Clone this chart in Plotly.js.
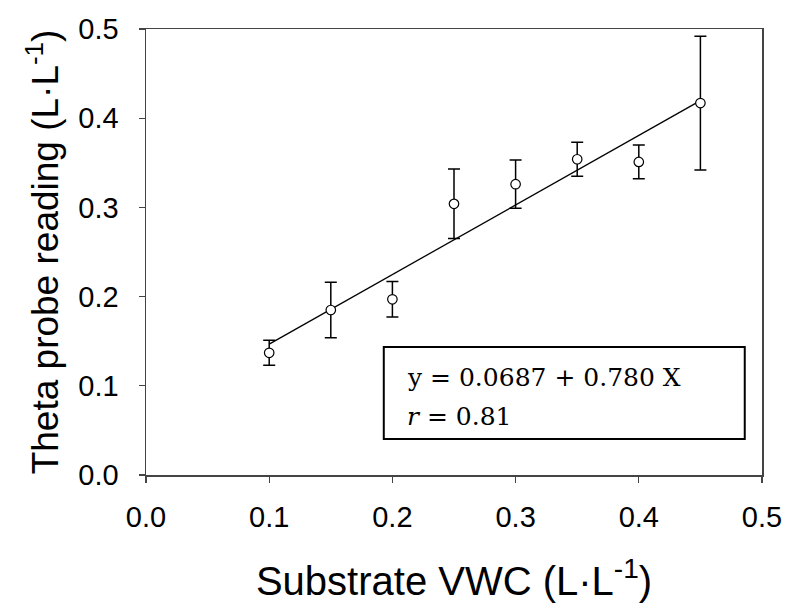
<!DOCTYPE html>
<html>
<head>
<meta charset="utf-8">
<script src="https://cdn.plot.ly/plotly-3.0.1.min.js"></script>
<style>html,body{margin:0;padding:0;background:#fff;}#chart{width:790px;height:609px;}</style>
</head>
<body>
<div id="chart"></div>
<script>
// Data
const vwc = [0.10, 0.15, 0.20, 0.25, 0.30, 0.35, 0.40, 0.45];
const theta = [0.137, 0.185, 0.197, 0.304, 0.326, 0.354, 0.351, 0.417];
const thetaErr = [0.014, 0.031, 0.020, 0.039, 0.027, 0.019, 0.019, 0.075];
const fitIntercept = 0.0687;
const fitSlope = 0.780;
const fitRange = [0.10, 0.45];
const xTicks = [0.0, 0.1, 0.2, 0.3, 0.4, 0.5];
const yTicks = [0.0, 0.1, 0.2, 0.3, 0.4, 0.5];
const eqText = "y = 0.0687 + 0.780 X";
const rText = "<i>r</i> = 0.81";

const fitY = fitRange.map(x => fitIntercept + fitSlope * x);

const SANS = "'Liberation Sans', Arial, sans-serif";

const traces = [
  {
    x: fitRange, y: fitY, type: 'scatter', mode: 'lines',
    line: {color: '#000', width: 1.3}, hoverinfo: 'skip', showlegend: false
  },
  {
    x: vwc, y: theta, type: 'scatter', mode: 'markers',
    marker: {symbol: 'circle', size: 9.5, color: '#fff', line: {color: '#000', width: 1.2}},
    error_y: {type: 'data', array: thetaErr, visible: true, color: '#000', thickness: 1.5, width: 6},
    showlegend: false
  }
];

const axisCommon = {
  showgrid: false, zeroline: false, showline: true, mirror: true,
  linecolor: '#444', linewidth: 1.5,
  ticks: 'outside', ticklen: 6, tickwidth: 1.3, tickcolor: '#444',
  tickfont: {family: SANS, size: 29, color: '#000'},
  tickformat: '.1f'
};

const layout = {
  width: 790, height: 609,
  margin: {l: 146, r: 28, t: 29, b: 134},
  paper_bgcolor: '#fff', plot_bgcolor: '#fff',
  font: {family: SANS},
  xaxis: Object.assign({}, axisCommon, {
    range: [0, 0.5], tickvals: xTicks, ticklabelstandoff: 10,
    title: {text: 'Substrate VWC (L·L<sup>-1</sup>)', font: {family: SANS, size: 40, color: '#000'}, standoff: 34}
  }),
  yaxis: Object.assign({}, axisCommon, {
    range: [0, 0.5], tickvals: yTicks, ticklabelstandoff: 14,
    title: {text: 'Theta probe reading (L·L<sup>-1</sup>)', font: {family: SANS, size: 37, color: '#000'}, standoff: 8}
  }),
  shapes: [{
    type: 'rect', xref: 'x', yref: 'y',
    x0: 0.193, x1: 0.486, y0: 0.0404, y1: 0.1435,
    line: {color: '#000', width: 2}, fillcolor: 'rgba(0,0,0,0)'
  }],
  annotations: [
    {xref: 'x', yref: 'y', x: 0.2102, y: 0.1090, xanchor: 'left', yanchor: 'middle', showarrow: false,
     text: eqText, font: {family: 'DejaVu Serif, serif', size: 25, color: '#000'}},
    {xref: 'x', yref: 'y', x: 0.2102, y: 0.0661, xanchor: 'left', yanchor: 'middle', showarrow: false,
     text: rText, font: {family: 'DejaVu Serif, serif', size: 25, color: '#000'}}
  ]
};

Plotly.newPlot('chart', traces, layout, {displayModeBar: false, staticPlot: true});
</script>
</body>
</html>
